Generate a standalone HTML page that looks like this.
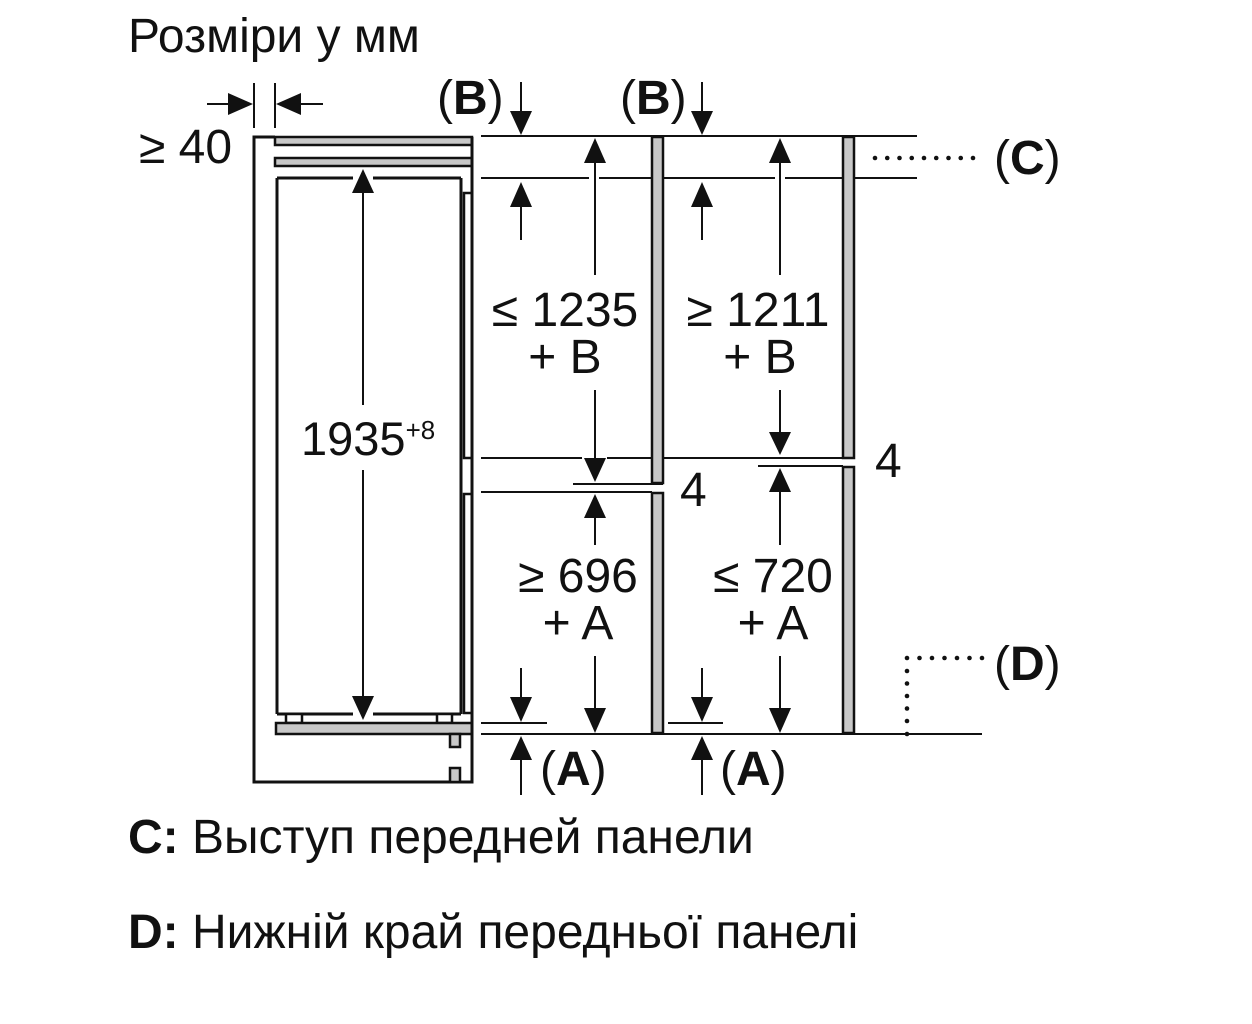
<!DOCTYPE html>
<html>
<head>
<meta charset="utf-8">
<style>
  html,body{margin:0;padding:0;background:#fff;}
  svg{display:block;}
  text{font-family:"Liberation Sans", Arial, sans-serif; fill:#111;}
</style>
</head>
<body>
<svg width="1252" height="1024" viewBox="0 0 1252 1024" xmlns="http://www.w3.org/2000/svg">
  <rect x="0" y="0" width="1252" height="1024" fill="#fff"/>

  <!-- Title -->
  <text x="128" y="52" font-size="48">Розміри у мм</text>

  <!-- ≥ 40 -->
  <text x="139" y="163" font-size="48">≥ 40</text>
  <g stroke="#111" stroke-width="2">
    <line x1="254" y1="83" x2="254" y2="128"/>
    <line x1="275" y1="83" x2="275" y2="128"/>
    <line x1="207" y1="104" x2="232" y2="104"/>
    <line x1="298" y1="104" x2="323" y2="104"/>
  </g>
  <polygon points="228,93 228,115 253,104" fill="#111"/>
  <polygon points="301,93 301,115 276,104" fill="#111"/>

  <!-- Cabinet outline -->
  <g stroke="#111" stroke-width="3" fill="none">
    <polyline points="275,137 254,137 254,782 472,782 472,137"/>
  </g>
  <!-- top gray strips -->
  <rect x="275" y="137" width="197" height="8" fill="#c8c8c8" stroke="#111" stroke-width="2.5"/>
  <rect x="275" y="158" width="197" height="8" fill="#c8c8c8" stroke="#111" stroke-width="2.5"/>

  <!-- Fridge body -->
  <g stroke="#111" stroke-width="3" fill="none">
    <line x1="277" y1="178" x2="353" y2="178"/>
    <line x1="373" y1="178" x2="461" y2="178"/>
    <line x1="277" y1="178" x2="277" y2="714"/>
    <line x1="461" y1="178" x2="461" y2="714"/>
    <line x1="277" y1="714" x2="353" y2="714"/>
    <line x1="373" y1="714" x2="461" y2="714"/>
  </g>
  <!-- door panels (white) -->
  <rect x="464" y="193" width="8" height="265" fill="#fff" stroke="#111" stroke-width="2.5"/>
  <rect x="464" y="494" width="8" height="219" fill="#fff" stroke="#111" stroke-width="2.5"/>
  <!-- feet -->
  <rect x="286" y="714" width="16" height="9" fill="#fff" stroke="#111" stroke-width="2.5"/>
  <rect x="437" y="714" width="15" height="9" fill="#fff" stroke="#111" stroke-width="2.5"/>
  <!-- base strip -->
  <rect x="276" y="723" width="196" height="11" fill="#c8c8c8" stroke="#111" stroke-width="2.5"/>
  <rect x="450" y="734" width="10" height="13" fill="#c8c8c8" stroke="#111" stroke-width="2.5"/>
  <rect x="450" y="768" width="10" height="14" fill="#c8c8c8" stroke="#111" stroke-width="2.5"/>
  <line x1="472" y1="137" x2="472" y2="782" stroke="#111" stroke-width="3"/>

  <!-- 1935 arrow -->
  <g stroke="#111" stroke-width="2">
    <line x1="363" y1="190" x2="363" y2="405"/>
    <line x1="363" y1="470" x2="363" y2="698"/>
  </g>
  <polygon points="352,193 374,193 363,169" fill="#111"/>
  <polygon points="352,696 374,696 363,720" fill="#111"/>
  <text x="301" y="455" font-size="47">1935<tspan font-size="26" dy="-16">+8</tspan></text>

  <!-- Dimension horizontal lines -->
  <g stroke="#111" stroke-width="2">
    <line x1="481" y1="136" x2="917" y2="136"/>
    <line x1="481" y1="178" x2="589" y2="178"/>
    <line x1="599" y1="178" x2="775" y2="178"/>
    <line x1="785" y1="178" x2="917" y2="178"/>
    <line x1="481" y1="458" x2="582" y2="458"/>
    <line x1="607" y1="458" x2="843" y2="458"/>
    <line x1="573" y1="484" x2="663" y2="484"/>
    <line x1="481" y1="492" x2="652" y2="492"/>
    <line x1="758" y1="466" x2="843" y2="466"/>
    <line x1="481" y1="723" x2="547" y2="723"/>
    <line x1="668" y1="723" x2="723" y2="723"/>
    <line x1="481" y1="734" x2="982" y2="734"/>
  </g>

  <!-- Panels -->
  <rect x="652" y="137" width="11" height="346" fill="#c8c8c8" stroke="#111" stroke-width="2.5"/>
  <rect x="652" y="493" width="11" height="240" fill="#c8c8c8" stroke="#111" stroke-width="2.5"/>
  <rect x="843" y="137" width="11" height="321" fill="#c8c8c8" stroke="#111" stroke-width="2.5"/>
  <rect x="843" y="467" width="11" height="266" fill="#c8c8c8" stroke="#111" stroke-width="2.5"/>

  <!-- (B) labels and arrows -->
  <text x="437" y="114" font-size="48">(<tspan font-weight="bold">B</tspan>)</text>
  <text x="620" y="114" font-size="48">(<tspan font-weight="bold">B</tspan>)</text>
  <g stroke="#111" stroke-width="2">
    <line x1="521" y1="82" x2="521" y2="113"/>
    <line x1="702" y1="82" x2="702" y2="113"/>
    <line x1="521" y1="205" x2="521" y2="240"/>
    <line x1="702" y1="205" x2="702" y2="240"/>
  </g>
  <polygon points="510,111 532,111 521,135" fill="#111"/>
  <polygon points="691,111 713,111 702,135" fill="#111"/>
  <polygon points="510,207 532,207 521,182" fill="#111"/>
  <polygon points="691,207 713,207 702,182" fill="#111"/>

  <!-- Upper main dims -->
  <g stroke="#111" stroke-width="2">
    <line x1="595" y1="160" x2="595" y2="275"/>
    <line x1="595" y1="390" x2="595" y2="460"/>
    <line x1="780" y1="160" x2="780" y2="275"/>
    <line x1="780" y1="390" x2="780" y2="434"/>
  </g>
  <polygon points="584,163 606,163 595,138" fill="#111"/>
  <polygon points="769,163 791,163 780,138" fill="#111"/>
  <polygon points="584,458 606,458 595,482" fill="#111"/>
  <polygon points="769,432 791,432 780,455" fill="#111"/>
  <text x="565" y="326" font-size="48" text-anchor="middle">≤ 1235</text>
  <text x="565" y="373" font-size="48" text-anchor="middle">+ B</text>
  <text x="758" y="326" font-size="48" text-anchor="middle">≥ 1211</text>
  <text x="760" y="373" font-size="48" text-anchor="middle">+ B</text>

  <!-- 4 labels -->
  <text x="680" y="506" font-size="48">4</text>
  <text x="875" y="477" font-size="48">4</text>

  <!-- Lower main dims -->
  <g stroke="#111" stroke-width="2">
    <line x1="595" y1="516" x2="595" y2="545"/>
    <line x1="595" y1="656" x2="595" y2="710"/>
    <line x1="780" y1="490" x2="780" y2="545"/>
    <line x1="780" y1="656" x2="780" y2="710"/>
  </g>
  <polygon points="584,518 606,518 595,494" fill="#111"/>
  <polygon points="769,492 791,492 780,468" fill="#111"/>
  <polygon points="584,708 606,708 595,733" fill="#111"/>
  <polygon points="769,708 791,708 780,733" fill="#111"/>
  <text x="578" y="592" font-size="48" text-anchor="middle">≥ 696</text>
  <text x="578" y="639" font-size="48" text-anchor="middle">+ A</text>
  <text x="773" y="592" font-size="48" text-anchor="middle">≤ 720</text>
  <text x="773" y="639" font-size="48" text-anchor="middle">+ A</text>

  <!-- (A) arrows -->
  <g stroke="#111" stroke-width="2">
    <line x1="521" y1="668" x2="521" y2="699"/>
    <line x1="702" y1="668" x2="702" y2="699"/>
    <line x1="521" y1="758" x2="521" y2="795"/>
    <line x1="702" y1="758" x2="702" y2="795"/>
  </g>
  <polygon points="510,697 532,697 521,722" fill="#111"/>
  <polygon points="691,697 713,697 702,722" fill="#111"/>
  <polygon points="510,760 532,760 521,736" fill="#111"/>
  <polygon points="691,760 713,760 702,736" fill="#111"/>
  <text x="540" y="785" font-size="48">(<tspan font-weight="bold">A</tspan>)</text>
  <text x="720" y="785" font-size="48">(<tspan font-weight="bold">A</tspan>)</text>

  <!-- (C) -->
  <g fill="#111">
    <circle cx="875" cy="158" r="2.3"/>
    <circle cx="887.25" cy="158" r="2.3"/>
    <circle cx="899.5" cy="158" r="2.3"/>
    <circle cx="911.75" cy="158" r="2.3"/>
    <circle cx="924" cy="158" r="2.3"/>
    <circle cx="936.25" cy="158" r="2.3"/>
    <circle cx="948.5" cy="158" r="2.3"/>
    <circle cx="960.75" cy="158" r="2.3"/>
    <circle cx="973" cy="158" r="2.3"/>
  </g>
  <text x="994" y="174" font-size="48">(<tspan font-weight="bold">C</tspan>)</text>

  <!-- (D) -->
  <g fill="#111">
    <circle cx="907" cy="658" r="2.3"/>
    <circle cx="919.5" cy="658" r="2.3"/>
    <circle cx="932" cy="658" r="2.3"/>
    <circle cx="944.5" cy="658" r="2.3"/>
    <circle cx="957" cy="658" r="2.3"/>
    <circle cx="969.5" cy="658" r="2.3"/>
    <circle cx="982" cy="658" r="2.3"/>
    <circle cx="907" cy="671" r="2.3"/>
    <circle cx="907" cy="683.5" r="2.3"/>
    <circle cx="907" cy="696" r="2.3"/>
    <circle cx="907" cy="708.5" r="2.3"/>
    <circle cx="907" cy="721" r="2.3"/>
    <circle cx="907" cy="734" r="2.3"/>
  </g>
  <text x="994" y="680" font-size="48">(<tspan font-weight="bold">D</tspan>)</text>

  <!-- Legend -->
  <text x="128" y="853" font-size="48"><tspan font-weight="bold">C:</tspan> Выступ передней панели</text>
  <text x="128" y="948" font-size="48"><tspan font-weight="bold">D:</tspan> Нижній край передньої панелі</text>
</svg>
</body>
</html>
